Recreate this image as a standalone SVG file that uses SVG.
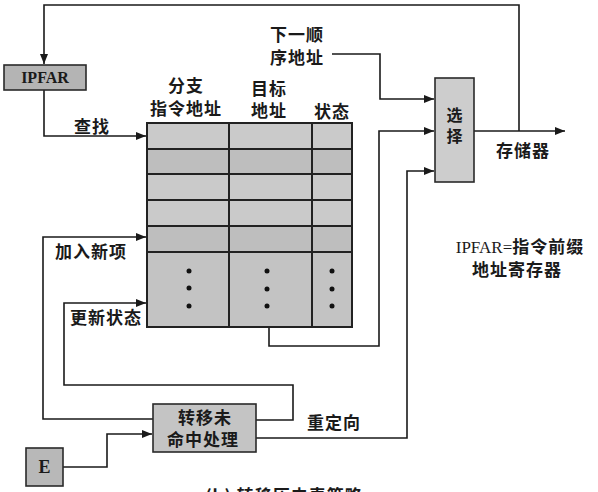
<svg xmlns="http://www.w3.org/2000/svg" width="598" height="492" viewBox="0 0 598 492">
  <defs>
    <marker id="arrow" viewBox="0 0 10 8" refX="10" refY="4" markerWidth="10" markerHeight="8" markerUnits="userSpaceOnUse" orient="auto">
      <path d="M0,0 L10,4 L0,8 Z" fill="#1a1a1a"/>
    </marker>
  </defs>
  <style>
    .wire { fill: none; stroke: #1a1a1a; stroke-width: 1.6; }
    .box { fill: #c4c4c4; stroke: #2a2a2a; stroke-width: 1.6; }
    .grid { fill: none; stroke: #222; stroke-width: 2; }
    .cn { font-family: "Noto Sans CJK SC", "Noto Sans", sans-serif; font-size: 17px; font-weight: bold; fill: #1a1a1a; letter-spacing: 1px; }
    .lat { font-family: "Liberation Serif", serif; font-size: 16px; font-weight: bold; fill: #1a1a1a; }
    .dot { fill: #111; }
  </style>
  <rect width="598" height="492" fill="#ffffff"/>

  <!-- connectors -->
  <g id="connectors">
    <!-- output fed back to IPFAR -->
    <path class="wire" d="M519,131 V5 H44 V64" marker-end="url(#arrow)"/>
    <!-- lookup -->
    <path class="wire" d="M44,90 V136 H146" marker-end="url(#arrow)"/>
    <!-- next sequential address -->
    <path class="wire" d="M332,54 H380 V99 H434" marker-end="url(#arrow)"/>
    <!-- target address -->
    <path class="wire" d="M269,327 V346 H379 V131 H434" marker-end="url(#arrow)"/>
    <!-- redirect -->
    <path class="wire" d="M256,438 H407 V171 H434" marker-end="url(#arrow)"/>
    <!-- select output -->
    <path class="wire" d="M474,131 H565" marker-end="url(#arrow)"/>
    <!-- add new entry -->
    <path class="wire" d="M153,419 H43 V237 H146" marker-end="url(#arrow)"/>
    <!-- update state -->
    <path class="wire" d="M256,420 H293 V385 H64 V303 H146" marker-end="url(#arrow)"/>
    <!-- E into miss handling -->
    <path class="wire" d="M63,467 H107 V434 H152" marker-end="url(#arrow)"/>
  </g>

  <!-- IPFAR register -->
  <g id="ipfar">
    <rect class="box" x="4" y="65" width="82" height="25" style="fill:#b4b4b4"/>
    <text class="lat" x="45" y="83" text-anchor="middle">IPFAR</text>
  </g>

  <!-- branch history table -->
  <g id="table">
    <rect x="147" y="123" width="205" height="204" fill="#cacaca"/>
    <rect x="147" y="149" width="205" height="25" fill="#bebebe"/>
    <rect x="147" y="226" width="205" height="26" fill="#bebebe"/>
    <rect x="147" y="252" width="205" height="75" fill="#c3c3c3"/>
    <rect class="grid" x="147" y="123" width="205" height="204"/>
    <path class="grid" d="M147,149 H352 M147,174 H352 M147,200 H352 M147,226 H352 M147,252 H352 M229,123 V327 M312,123 V327"/>
    <circle class="dot" cx="189" cy="271" r="2.5"/>
    <circle class="dot" cx="189" cy="288" r="2.5"/>
    <circle class="dot" cx="189" cy="306" r="2.5"/>
    <circle class="dot" cx="267" cy="271" r="2.5"/>
    <circle class="dot" cx="267" cy="289" r="2.5"/>
    <circle class="dot" cx="267" cy="306" r="2.5"/>
    <circle class="dot" cx="332" cy="271" r="2.5"/>
    <circle class="dot" cx="332" cy="289" r="2.5"/>
    <circle class="dot" cx="332" cy="306" r="2.5"/>
    <text class="cn" x="186" y="92" text-anchor="middle">分支</text>
    <text class="cn" x="186" y="115" text-anchor="middle">指令地址</text>
    <text class="cn" x="269" y="95" text-anchor="middle">目标</text>
    <text class="cn" x="269" y="117" text-anchor="middle">地址</text>
    <text class="cn" x="332" y="118" text-anchor="middle">状态</text>
  </g>

  <!-- select unit -->
  <g id="select">
    <rect class="box" x="435" y="78" width="39" height="104" style="fill:#cdcdcd"/>
    <text class="cn" x="455" y="121" text-anchor="middle" style="font-size:16px">选</text>
    <text class="cn" x="455" y="142" text-anchor="middle" style="font-size:16px">择</text>
  </g>

  <!-- miss handling -->
  <g id="miss">
    <rect class="box" x="153" y="404" width="103" height="48"/>
    <text class="cn" x="205" y="424" text-anchor="middle">转移未</text>
    <text class="cn" x="203" y="446" text-anchor="middle">命中处理</text>
  </g>

  <!-- E -->
  <g id="e">
    <rect class="box" x="26" y="448" width="37" height="38" style="fill:#b8b8b8"/>
    <text class="lat" x="44.5" y="473" text-anchor="middle" style="font-size:18px">E</text>
  </g>

  <!-- labels -->
  <g id="labels">
    <text class="cn" x="92" y="133" text-anchor="middle">查找</text>
    <text class="cn" x="297" y="41" text-anchor="middle">下一顺</text>
    <text class="cn" x="297" y="64" text-anchor="middle">序地址</text>
    <text class="cn" x="523" y="157" text-anchor="middle">存储器</text>
    <text class="cn" x="91" y="258" text-anchor="middle">加入新项</text>
    <text class="cn" x="106" y="324" text-anchor="middle">更新状态</text>
    <text class="cn" x="334" y="429" text-anchor="middle">重定向</text>
    <text class="cn" x="520" y="253" text-anchor="middle"><tspan font-family="Liberation Serif, serif" font-weight="normal" letter-spacing="0">IPFAR=</tspan>指令前缀</text>
    <text class="cn" x="517" y="276" text-anchor="middle">地址寄存器</text>
    <text class="cn" x="284" y="502" text-anchor="middle">(b) 转移历史表策略</text>
  </g>
</svg>
